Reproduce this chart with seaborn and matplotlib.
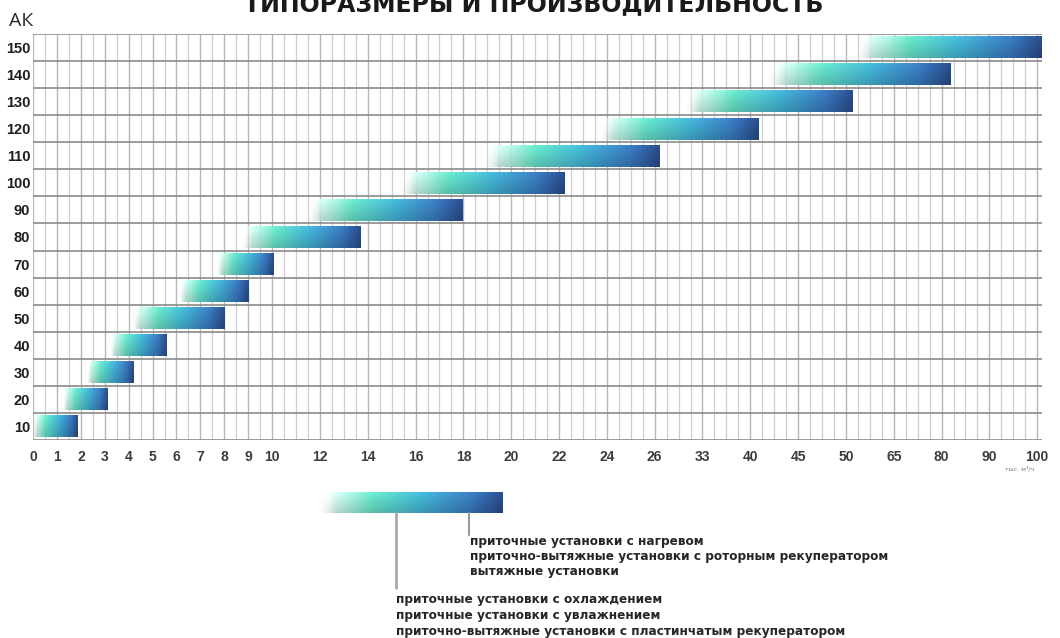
import numpy as np
import pandas as pd
import matplotlib
matplotlib.use("Agg")
import matplotlib.pyplot as plt
import seaborn as sns
from matplotlib.colors import LinearSegmentedColormap
from matplotlib.lines import Line2D

# ---------------- data ----------------
sizes = [10, 20, 30, 40, 50, 60, 70, 80, 90, 100, 110, 120, 130, 140, 150]
flow_start = [0.0, 1.25, 2.25, 3.2, 4.15, 6.1, 7.7, 8.75, 11.5, 15.4, 18.9, 23.7, 30.5, 42.0, 53.5]
flow_end = [1.85, 3.1, 4.2, 5.55, 8.0, 9.0, 10.05, 13.7, 17.95, 22.25, 26.7, 40.8, 52.3, 82.0, 101.0]
tick_values = [0, 1, 2, 3, 4, 5, 6, 7, 8, 9, 10, 12, 14, 16, 18, 20, 22, 24, 26,
               33, 40, 45, 50, 65, 80, 90, 100]
title_text = "ТИПОРАЗМЕРЫ И ПРОИЗВОДИТЕЛЬНОСТЬ"
y_title = "АК"
unit_text = "тыс. м³/ч"
legend_upper = ["приточные установки с нагревом",
                "приточно-вытяжные установки с роторным рекуператором",
                "вытяжные установки"]
legend_lower = ["приточные установки с охлаждением",
                "приточные установки с увлажнением",
                "приточно-вытяжные установки с пластинчатым рекуператором"]

# ---------------- style ----------------
sns.set_theme(style="white")
plt.rcParams["font.family"] = ["DejaVu Sans"]

W, H = 1060, 638
fig = plt.figure(figsize=(W / 100, H / 100), dpi=100)
fig.patch.set_facecolor("white")
ax = fig.add_axes([33 / W, 1 - 440 / H, (1042 - 33) / W, (440 - 34) / H])

# piecewise scale: evenly spaced tick labels (step 1 up to 10, step 2 after)
tick_pos = np.concatenate([np.arange(11), np.arange(12, 43, 2)]).astype(float)
tv = np.asarray(tick_values, float)
ext_v = np.concatenate([[-100.0], tv, [300.0]])
ext_p = np.concatenate([[-100.0], tick_pos, [tick_pos[-1] + (300 - tv[-1]) * 0.2]])


def fwd(x):
    return np.interp(x, ext_v, ext_p)


def inv(p):
    return np.interp(p, ext_p, ext_v)


df = pd.DataFrame({"size": [str(s) for s in sizes], "start": flow_start, "end": flow_end})
order = [str(s) for s in sizes[::-1]]
dfo = df.set_index("size").loc[order].reset_index()

sns.barplot(data=dfo, x="end", y="size", order=order, orient="h", width=0.8,
            color="#3a7fc8", errorbar=None, ax=ax)
ax.set_xscale("function", functions=(fwd, inv))

bars = list(ax.patches)
for patch, s, e in zip(bars, dfo["start"], dfo["end"]):
    patch.set_x(s)
    patch.set_width(e - s)
    patch.set_facecolor("none")
    patch.set_edgecolor("none")

ax.set_xlim(0, 101)
ax.set_ylim(len(sizes) - 0.5, -0.5)

# grid
ax.set_xticks(tick_values)
ax.set_xticklabels([str(v) for v in tick_values])
ax.set_xticks(inv(np.arange(0, 42.3, 0.5)), minor=True)
ax.set_yticks(np.arange(-0.5, len(sizes), 1.0), minor=True)
ax.grid(which="major", axis="x", color="#b8b8b8", lw=1.0)
ax.grid(which="minor", axis="x", color="#cdcdcd", lw=0.9)
ax.grid(which="minor", axis="y", color="#8a8a8a", lw=1.2)
ax.grid(which="major", axis="y", visible=False)
ax.set_axisbelow(True)
for sp in ax.spines.values():
    sp.set_visible(False)
ax.tick_params(which="both", length=0)
ax.tick_params(axis="x", pad=7)
ax.tick_params(axis="y", pad=2)
ax.set_xlabel("")
ax.set_ylabel("")
for lab in ax.get_xticklabels():
    lab.set_fontfamily(["Liberation Sans", "DejaVu Sans"])
    lab.set_fontweight("bold")
    lab.set_fontsize(10)
    lab.set_color("#3c3c3c")
for lab in ax.get_yticklabels():
    lab.set_fontfamily(["Liberation Sans", "DejaVu Sans"])
    lab.set_fontweight("bold")
    lab.set_fontsize(10.5)
    lab.set_color("#1e1e1e")

# gradient image for bars
cmap = LinearSegmentedColormap.from_list("grad", [
    (0.00, (1.0, 1.0, 1.0, 0.0)),
    (0.08, (0.80, 0.96, 0.92, 0.9)),
    (0.28, (0.40, 0.88, 0.77, 1.0)),
    (0.55, (0.26, 0.70, 0.82, 1.0)),
    (0.83, (0.22, 0.47, 0.74, 1.0)),
    (1.00, (0.16, 0.29, 0.53, 1.0)),
])
cols = cmap(np.linspace(0, 1, 300))
vfac = np.linspace(1.07, 0.86, 24)
img = np.empty((24, 300, 4))
img[..., :3] = np.clip(cols[None, :, :3] * vfac[:, None, None], 0, 1)
img[..., 3] = cols[None, :, 3]

to_axes = ax.transAxes.inverted()
for patch in bars:
    bb = patch.get_window_extent()
    (x0, y0), (x1, y1) = to_axes.transform(bb.get_points())
    ax.imshow(img, extent=(x0, x1, y0, y1), transform=ax.transAxes,
              aspect="auto", interpolation="bilinear", zorder=3)
ax.set_xlim(0, 101)
ax.set_ylim(len(sizes) - 0.5, -0.5)

# texts
fig.text(534 / W, 1 - 11 / H, title_text, ha="center", va="baseline",
         fontsize=17, fontweight="bold", color="#1a1a1a")
fig.text(9 / W, 1 - 21 / H, y_title, ha="left", va="center", fontsize=14,
         family=["Open Sans", "DejaVu Sans"], color="#2a2a2a")
fig.text(1020 / W, 1 - 469 / H, unit_text, ha="center", va="center",
         fontsize=4.5, color="#777777")

# legend gradient bar
lax = fig.add_axes([320 / W, 1 - 513 / H, 183 / W, 21 / H])
lax.imshow(img, aspect="auto", extent=(0, 1, 0, 1), interpolation="bilinear")
lax.axis("off")

fig.add_artist(Line2D([396 / W, 396 / W], [1 - 513 / H, 1 - 588 / H],
                      color="#aaaaaa", lw=2.0, transform=fig.transFigure))
fig.add_artist(Line2D([469 / W, 469 / W], [1 - 513 / H, 1 - 535 / H],
                      color="#999999", lw=1.5, transform=fig.transFigure))

for i, line in enumerate(legend_upper):
    fig.text(470 / W, 1 - (541 + i * 15.5) / H, line, ha="left", va="center",
             fontsize=8.7, fontweight="bold", color="#262626")
for i, line in enumerate(legend_lower):
    fig.text(396 / W, 1 - (600 + i * 15.5) / H, line, ha="left", va="center",
             fontsize=8.7, fontweight="bold", color="#262626")

fig.savefig("out.png", dpi=100)
